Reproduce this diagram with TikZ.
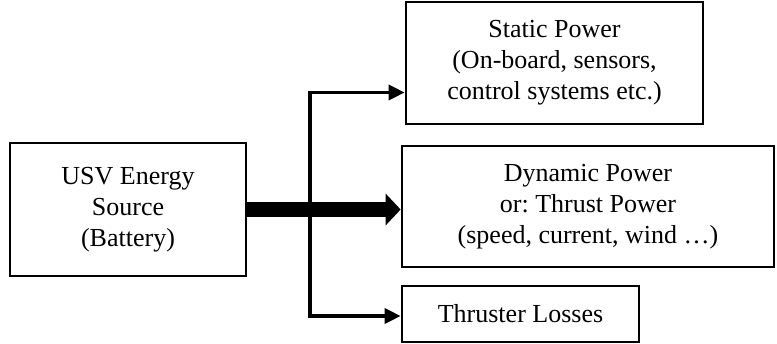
\documentclass[tikz,border=0pt]{standalone}
\usepackage{fontspec}
\setmainfont{Liberation Serif}
\usetikzlibrary{arrows.meta}
\begin{document}
\frenchspacing
\begin{tikzpicture}[x=1pt,y=-1pt,
  box/.style={draw,line width=2.7pt,align=center,inner sep=0pt,
    font=\fontsize{26}{31}\selectfont},
  thinarrow/.style={line width=3.4pt,line join=miter,
    {Triangle[length=16pt,width=15pt]}-{Triangle[length=16pt,width=15pt]}},
  thickarrow/.style={line width=15.5pt,-{Triangle[length=15pt,width=31pt]}}]
\useasboundingbox (0,0) rectangle (777,343);
\node[box,minimum width=236pt,minimum height=133pt] (usv) at (128,209.5)
  {USV Energy\\Source\\(Battery)};
\node[box,minimum width=297pt,minimum height=122pt] (stat) at (554.5,63)
  {Static Power\\(On-board, sensors,\\control systems etc.)};
\node[box,minimum width=372pt,minimum height=121pt] (dyn) at (588,206.5)
  {Dynamic Power\\or: Thrust Power\\(speed, current, wind …)};
\node[box,minimum width=237pt,minimum height=56pt] (thr) at (520.5,314)
  {Thruster Losses};
\coordinate (top) at (310,92.5);
\coordinate (bot) at (310,316);
\draw[thickarrow] (usv.east |- 0,209.5) -- (dyn.west |- 0,209.5);
\draw[thinarrow] (top -| stat.west) -- (top) -- (bot) -- (bot -| thr.west);
\end{tikzpicture}
\end{document}
